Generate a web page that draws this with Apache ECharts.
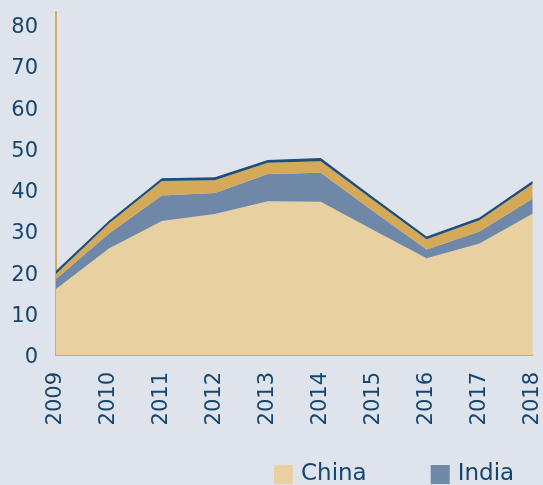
<!DOCTYPE html>
<html>
<head>
<meta charset="utf-8">
<script src="https://cdn.jsdelivr.net/npm/echarts@6/dist/echarts.min.js"></script>
<style>
  html, body { margin: 0; padding: 0; background: #dfe3ec; }
  #main { width: 543px; height: 485px; }
</style>
</head>
<body>
<div id="main"></div>
<script>
// data
var years = ['2009','2010','2011','2012','2013','2014','2015','2016','2017','2018'];
var china = [16, 25.8, 32.4, 34.1, 37.2, 37.1, 30.2, 23.4, 27, 34.2];
var india = [2.4, 3.6, 6.2, 5.1, 6.6, 7.0, 4.5, 2.1, 2.9, 3.6];
var other1 = [1.2, 2.4, 3.5, 3.1, 2.7, 2.8, 2.7, 2.5, 2.7, 3.6];
var other2 = [0.8, 0.7, 0.7, 0.7, 0.7, 0.8, 0.7, 0.7, 0.7, 0.7];

var TEXT_COLOR = '#15466e';
var AXIS_GOLD = '#d6ac5a';

var chart = echarts.init(document.getElementById('main'));

function areaSeries(name, data, color) {
    return {
        name: name,
        type: 'line',
        stack: 'total',
        data: data,
        symbol: 'none',
        lineStyle: { width: 0 },
        areaStyle: { color: color, opacity: 1 },
        itemStyle: { color: color }
    };
}

var option = {
    backgroundColor: '#dfe3ec',
    animation: false,
    textStyle: { fontFamily: 'DejaVu Sans' },
    grid: { left: 56, right: 6, top: 12, bottom: 130 },
    legend: {
        data: ['China', 'India'],
        left: 269,
        top: 458,
        itemWidth: 19,
        itemHeight: 19,
        itemGap: 64,
        icon: 'rect',
        textStyle: { color: TEXT_COLOR, fontSize: 23, fontFamily: 'DejaVu Sans', padding: [0, 0, 0, 3] }
    },
    xAxis: {
        type: 'category',
        data: years,
        boundaryGap: false,
        axisLine: { lineStyle: { color: AXIS_GOLD, width: 2 } },
        axisTick: { show: false },
        axisLabel: { rotate: 90, color: TEXT_COLOR, fontSize: 21, margin: 17 }
    },
    yAxis: {
        type: 'value',
        min: 0,
        max: 83,
        interval: 10,
        axisLine: { show: true, lineStyle: { color: AXIS_GOLD, width: 2 } },
        axisTick: { show: false },
        splitLine: { show: false },
        axisLabel: {
            color: TEXT_COLOR,
            fontSize: 21,
            margin: 18,
            showMaxLabel: false,
            formatter: '{a|{value}}',
            rich: { a: { color: TEXT_COLOR, fontSize: 21, padding: [6, 0, 0, 0] } }
        }
    },
    series: [
        areaSeries('China', china, '#e8d0a0'),
        areaSeries('India', india, '#7088a8'),
        areaSeries('Other', other1, '#d4aa58'),
        areaSeries('Rest', other2, '#1f4e79')
    ]
};

chart.setOption(option);
</script>
</body>
</html>
